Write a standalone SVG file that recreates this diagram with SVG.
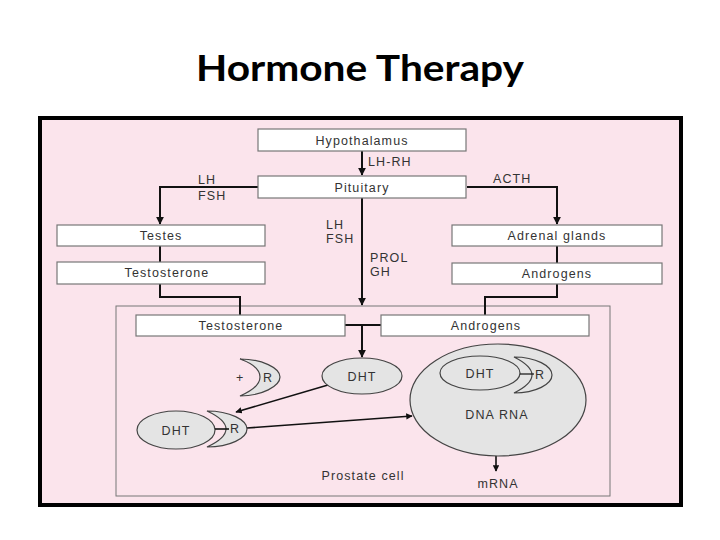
<svg xmlns="http://www.w3.org/2000/svg" width="720" height="540" viewBox="0 0 720 540">
<style>
.title{font-family:Lato,"Open Sans","Liberation Sans",sans-serif;font-weight:bold;font-size:37px;fill:#000;text-anchor:middle}
.t{font-family:"Liberation Sans",Arial,sans-serif;font-size:12.5px;fill:#333;letter-spacing:1.1px}
.c{text-anchor:middle}
.box{fill:#fff;stroke:#777;stroke-width:1.2}
.ln{fill:none;stroke:#111;stroke-width:2}
.thin{fill:none;stroke:#111;stroke-width:1.6}
.shape{fill:#e4e4e4;stroke:#444;stroke-width:1.2}
</style>
<defs>
<marker id="ah" viewBox="0 0 10 10" refX="9" refY="5" markerWidth="4" markerHeight="4" orient="auto" markerUnits="strokeWidth">
<path d="M0,0 L10,5 L0,10 z" fill="#111"/>
</marker>
</defs>
<rect width="720" height="540" fill="#fff"/>
<text class="title" x="360" y="81" textLength="328" lengthAdjust="spacingAndGlyphs">Hormone Therapy</text>
<rect x="40" y="118" width="641" height="387" fill="#fbe4ec" stroke="#000" stroke-width="4"/>
<g id="prostate-cell">
<rect x="116" y="306" width="494" height="190" fill="none" stroke="#777" stroke-width="1"/>
<text class="t c" x="363" y="480">Prostate cell</text>
</g>
<g id="connectors">
<path class="ln" d="M362,151 V175" marker-end="url(#ah)"/>
<path class="ln" d="M258,187 H160 V224" marker-end="url(#ah)"/>
<path class="ln" d="M467,187 H557 V224" marker-end="url(#ah)"/>
<path class="ln" d="M160,246 V262"/>
<path class="ln" d="M557,246 V263"/>
<path class="ln" d="M362,198 V305" marker-end="url(#ah)"/>
<path class="ln" d="M160,284 V297 H240 V315"/>
<path class="ln" d="M557,284 V297 H485 V315"/>
<path class="ln" d="M345,325 H381"/>
<path class="ln" d="M362,325 V357" marker-end="url(#ah)"/>
<path class="thin" d="M328,385 L236,412" marker-end="url(#ah)"/>
<path class="thin" d="M247,428 L412,416" marker-end="url(#ah)"/>
<path class="thin" d="M496,455 V471" marker-end="url(#ah)"/>
<text class="t" x="368" y="166">LH-RH</text>
<text class="t" x="493" y="183">ACTH</text>
<text class="t" x="198" y="184">LH</text>
<text class="t" x="198" y="200">FSH</text>
<text class="t" x="326" y="229">LH</text>
<text class="t" x="326" y="243">FSH</text>
<text class="t" x="370" y="262">PROL</text>
<text class="t" x="370" y="276">GH</text>
</g>
<g id="hypothalamus"><rect class="box" x="258" y="129" width="208" height="22"/><text class="t c" x="362" y="145">Hypothalamus</text></g>
<g id="pituitary"><rect class="box" x="258" y="176" width="208" height="22"/><text class="t c" x="362" y="192">Pituitary</text></g>
<g id="testes"><rect class="box" x="57" y="225" width="208" height="21"/><text class="t c" x="161" y="240">Testes</text></g>
<g id="testosterone-1"><rect class="box" x="57" y="262" width="208" height="22"/><text class="t c" x="167" y="277">Testosterone</text></g>
<g id="adrenal"><rect class="box" x="452" y="225" width="210" height="21"/><text class="t c" x="557" y="240">Adrenal glands</text></g>
<g id="androgens-1"><rect class="box" x="452" y="263" width="210" height="21"/><text class="t c" x="557" y="278">Androgens</text></g>
<g id="testosterone-2"><rect class="box" x="136" y="315" width="209" height="21"/><text class="t c" x="241" y="330">Testosterone</text></g>
<g id="androgens-2"><rect class="box" x="381" y="315" width="208" height="21"/><text class="t c" x="486" y="330">Androgens</text></g>
<g id="dht-free"><ellipse class="shape" cx="362" cy="376" rx="40" ry="18"/><text class="t c" x="362" y="381">DHT</text></g>
<g id="receptor-free">
<path class="shape" d="M240,359 C262,359 280,368 280,377 C280,386 262,396 240,396 C254,390 260,384 260,377 C260,370 254,364 240,359 Z"/>
<text class="t" x="236" y="382">+</text>
<text class="t" x="263" y="382">R</text>
</g>
<g id="dht-receptor">
<path class="shape" d="M207,411 C230,411 247,420 247,429 C247,438 230,447 207,447 C220,441 226,435 226,429 C226,423 220,417 207,411 Z"/>
<ellipse class="shape" cx="176" cy="430" rx="39" ry="19"/>
<path class="thin" d="M215,429 H229"/>
<text class="t c" x="176" y="435">DHT</text>
<text class="t" x="230" y="433">R</text>
</g>
<g id="nucleus">
<ellipse class="shape" cx="498" cy="400" rx="88" ry="56"/>
<path class="shape" d="M514,357 C536,357 552,366 552,375 C552,384 536,393 514,393 C526,387 532,381 532,375 C532,369 526,363 514,357 Z"/>
<ellipse class="shape" cx="480" cy="373" rx="40" ry="17"/>
<path class="thin" d="M520,374 H534" style="stroke-width:1.2"/>
<text class="t c" x="480" y="378">DHT</text>
<text class="t" x="535" y="379">R</text>
<text class="t c" x="497" y="419">DNA RNA</text>
</g>
<g id="mrna"><text class="t c" x="498" y="488">mRNA</text></g>
</svg>
